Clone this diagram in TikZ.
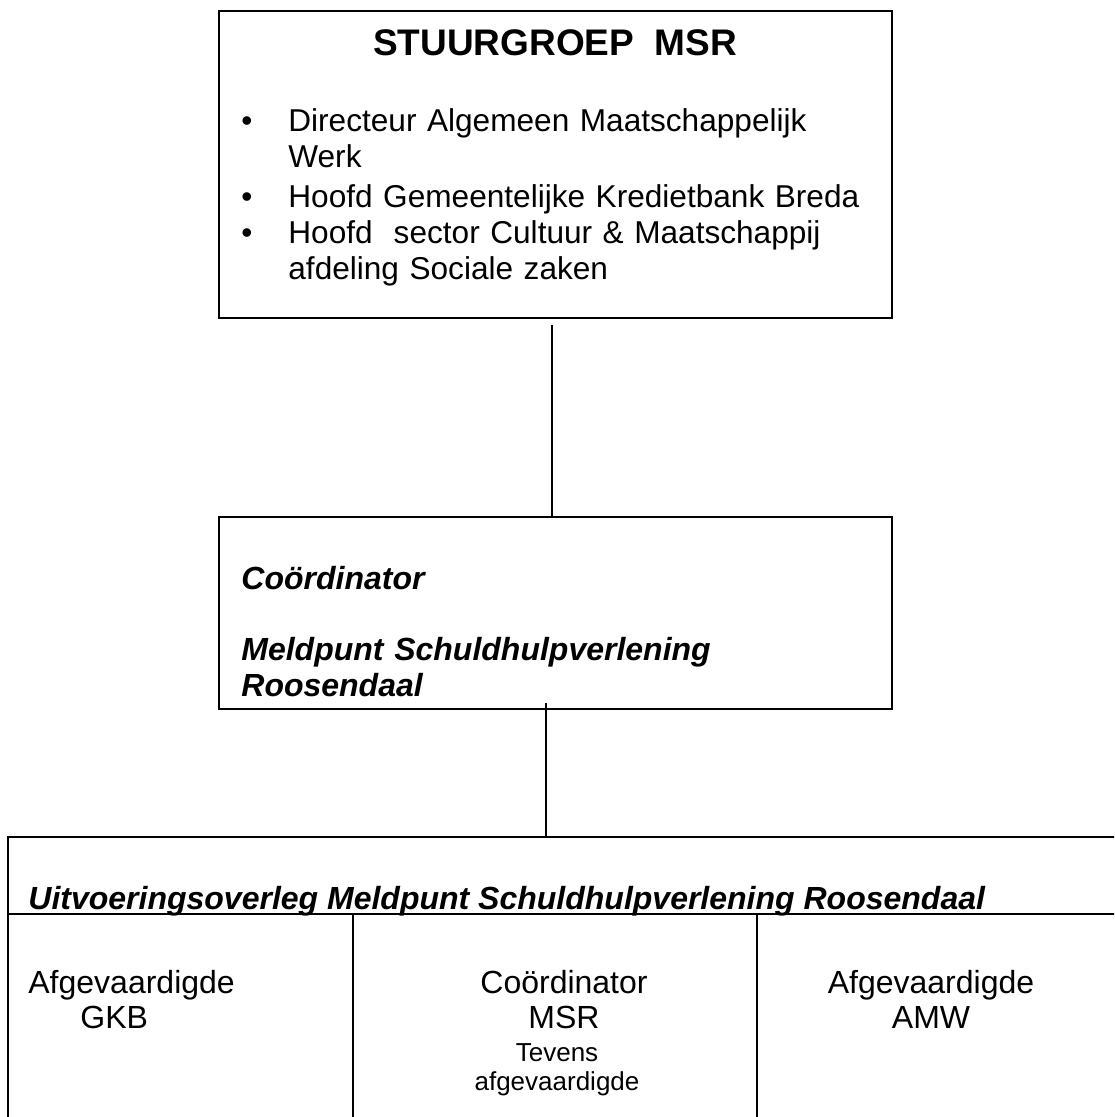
\documentclass[tikz,border=0pt]{standalone}
\usepackage{fontspec}
\setmainfont{Liberation Sans}
\usetikzlibrary{positioning}

\begin{document}
\begin{tikzpicture}[x=0.5pt,y=-0.5pt,
    kader/.style={rectangle,draw,line width=1pt,inner sep=0pt},
    lijn/.style={line width=1pt},
    scheiding/.style={line width=0.6pt},
    tekst/.style={inner sep=0pt,font=\fontsize{16}{17.75}\selectfont},
    kop/.style={tekst,font=\fontsize{16}{17.75}\selectfont\bfseries\itshape}]
    \useasboundingbox (0,0) rectangle (1114,1117);
    \clip (0,0) rectangle (1114,1117);

    % Stuurgroep
    \node[kader,minimum width=336.5pt,minimum height=153.5pt] (stuur) at (555.5,164.5) {};
    \node[tekst,font=\fontsize{18.5}{20}\selectfont\bfseries,anchor=base] (stuurtitel) at (555,55.5) {STUURGROEP\ \ MSR};
    \node[tekst,font=\fontsize{15.8}{18}\selectfont,text width=300pt,align=left,anchor=base west] (leden) at (288,132) {
        \leavevmode\llap{\textbullet\hspace{18pt}}Directeur Algemeen Maatschappelijk\\
        Werk\\[2pt]
        \leavevmode\llap{\textbullet\hspace{18pt}}Hoofd Gemeentelijke Kredietbank Breda\\
        \leavevmode\llap{\textbullet\hspace{18pt}}Hoofd\ \ sector Cultuur \& Maatschappij\\
        afdeling Sociale zaken};

    % Coordinator
    \node[kader,minimum width=336.5pt,minimum height=96pt] (coord) at (555.5,613) {};
    \node[kop,text width=300pt,align=left,anchor=base west] (coordtekst) at (241,589.5) {Coördinator\\[17.75pt]Meldpunt Schuldhulpverlening\\Roosendaal};

    % Uitvoeringsoverleg
    \node[kader,minimum width=563pt,minimum height=150pt] (uitv) at (571,987) {};
    \node[kop,anchor=base west] (uitvtitel) at (28,909) {Uitvoeringsoverleg Meldpunt Schuldhulpverlening Roosendaal};
    \coordinate (kopgrens) at (0,914);
    \coordinate (kolom1) at (353,0);
    \coordinate (kolom2) at (757,0);
    \draw[scheiding] (uitv.west |- kopgrens) -- (uitv.east |- kopgrens);
    \draw[scheiding] (kolom1 |- kopgrens) -- (kolom1 |- uitv.south);
    \draw[scheiding] (kolom2 |- kopgrens) -- (kolom2 |- uitv.south);

    \node[tekst,text width=150pt,align=left,anchor=base west] (gkb) at (28,993) {Afgevaardigde\\\hspace*{26pt}GKB};
    \node[tekst,text width=150pt,align=center,anchor=base] (msr) at (564,993) {Coördinator\\MSR};
    \node[tekst,font=\fontsize{13}{14.5}\selectfont,text width=150pt,align=center,anchor=base] (tevens) at (557,1061) {Tevens\\afgevaardigde};
    \node[tekst,text width=150pt,align=center,anchor=base] (amw) at (931,993) {Afgevaardigde\\AMW};

    % Verbindingen
    \draw[lijn] ([xshift=-1.75pt,yshift=-3pt]stuur.south) -- ([xshift=-1.75pt]coord.north);
    \draw[lijn] ([xshift=-4.75pt,yshift=3.5pt]coord.south) -- ([xshift=-4.75pt]coord.south |- uitv.north);
\end{tikzpicture}
\end{document}
